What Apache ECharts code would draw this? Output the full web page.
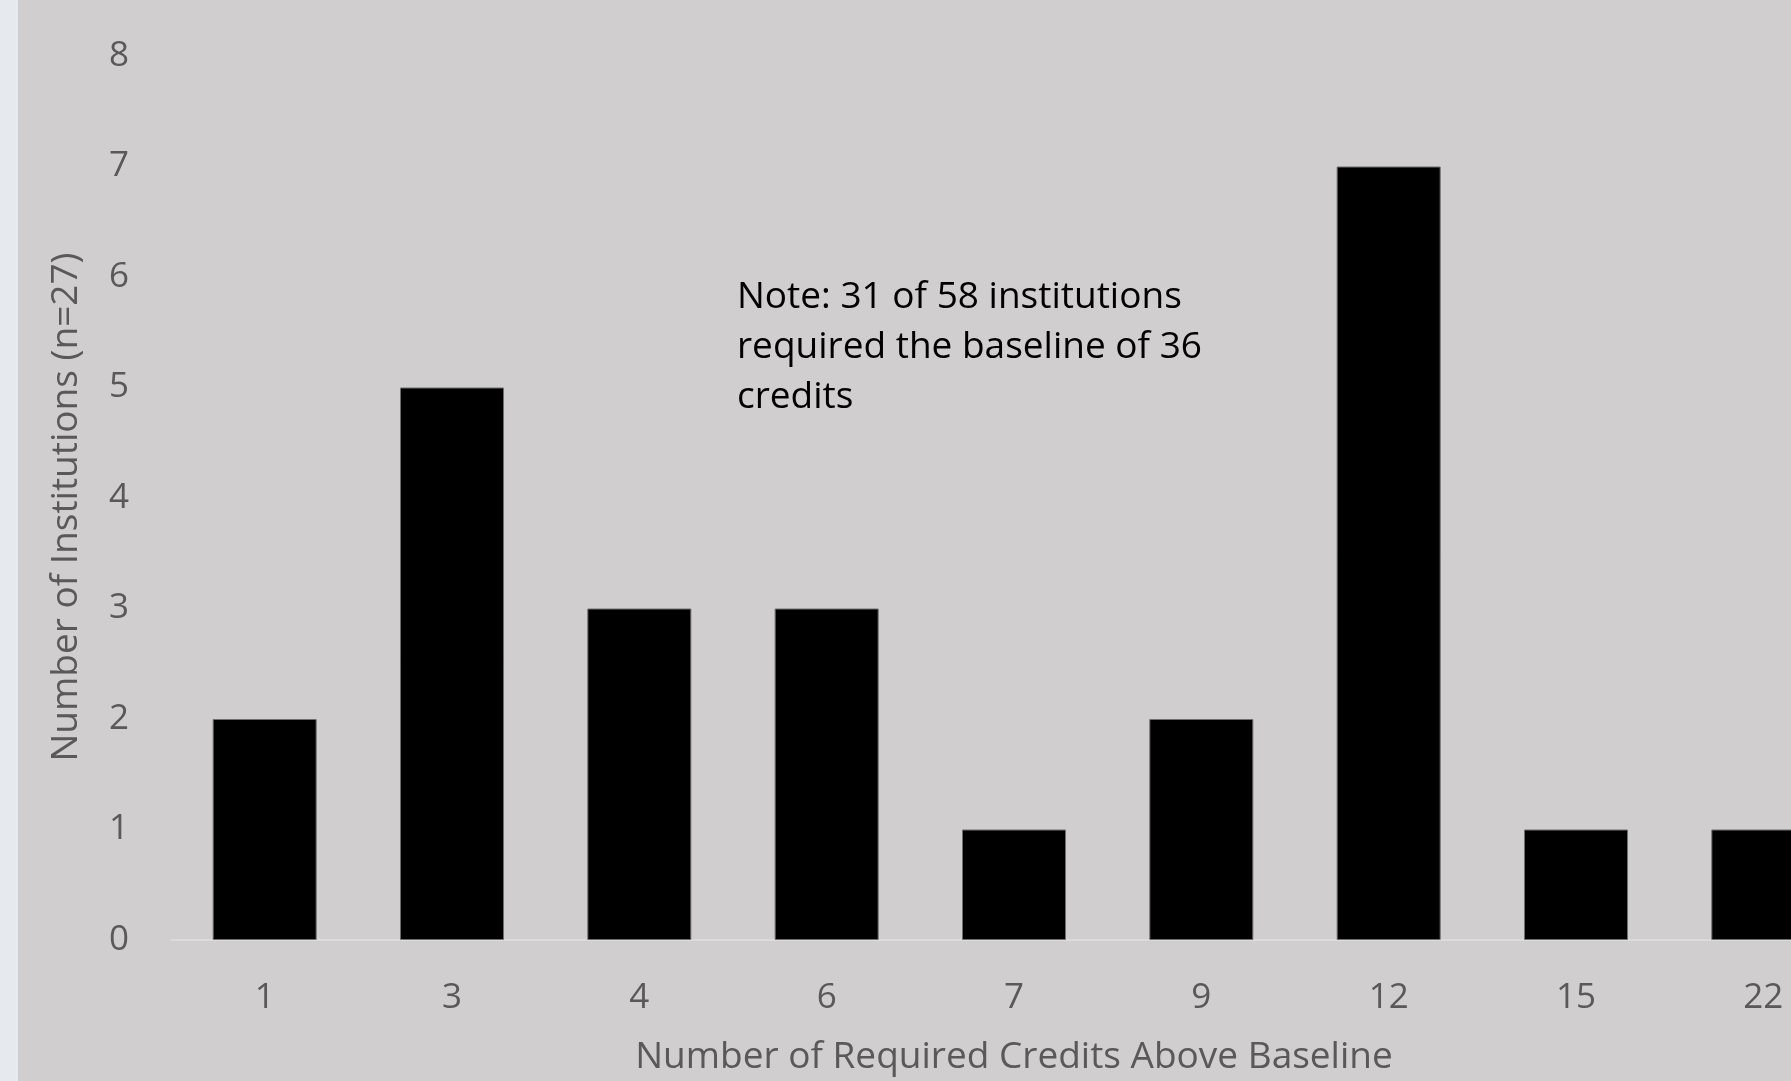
<!DOCTYPE html>
<html><head><meta charset="utf-8">
<script src="https://cdn.jsdelivr.net/npm/echarts@6/dist/echarts.min.js"></script>
<style>html,body{margin:0;padding:0;background:#D0CECF;overflow:hidden;}#c{width:1857px;height:1081px;}</style>
</head><body><div id="c"></div>
<script>
const categories = ['1','3','4','6','7','9','12','15','22'];
const institutions = [2,5,3,3,1,2,7,1,1];
const yTicks = {min:0, max:8, interval:1};
const noteLines = ['Note: 31 of 58 institutions','required the baseline of 36','credits'];
const xTitle = 'Number of Required Credits Above Baseline';
const yTitle = 'Number of Institutions (n=27)';

const FONT = '"Open Sans", Lato, sans-serif';
const chart = echarts.init(document.getElementById('c'), null, {renderer:'canvas'});
chart.setOption({
  backgroundColor:'#D0CECF',
  animation:false,
  grid:{left:171, top:56, right:0, bottom:140, containLabel:false},
  graphic:[
    {type:'rect', left:0, top:0, shape:{x:0,y:0,width:18,height:1081}, style:{fill:'#E6E9EE'}, z:-1},
    {type:'text', left:737, top:272, style:{text:noteLines.join('\n'), font:'37px '+FONT, fill:'#000', lineHeight:50}}
  ],
  xAxis:{type:'category', data:categories,
    axisLine:{lineStyle:{color:'#DCDCDC', width:2}}, axisTick:{show:false},
    axisLabel:{color:'#595959', fontSize:35, fontFamily:FONT, margin:41},
    name:xTitle, nameLocation:'middle', nameGap:99,
    nameTextStyle:{color:'#595959', fontSize:37, fontFamily:FONT}},
  yAxis:{type:'value', min:yTicks.min, max:yTicks.max, interval:yTicks.interval,
    splitLine:{show:false}, axisLine:{show:false}, axisTick:{show:false},
    axisLabel:{color:'#595959', fontSize:35, fontFamily:FONT, margin:42, padding:[7,0,0,0]},
    name:yTitle, nameLocation:'middle', nameGap:86, nameRotate:90,
    nameTextStyle:{color:'#595959', fontSize:37, fontFamily:FONT, padding:[0,18,0,0]}},
  series:[{type:'bar', data:institutions, barWidth:104,
    itemStyle:{color:'#000', borderColor:'#6E6E6E', borderWidth:1}}]
});
</script></body></html>
